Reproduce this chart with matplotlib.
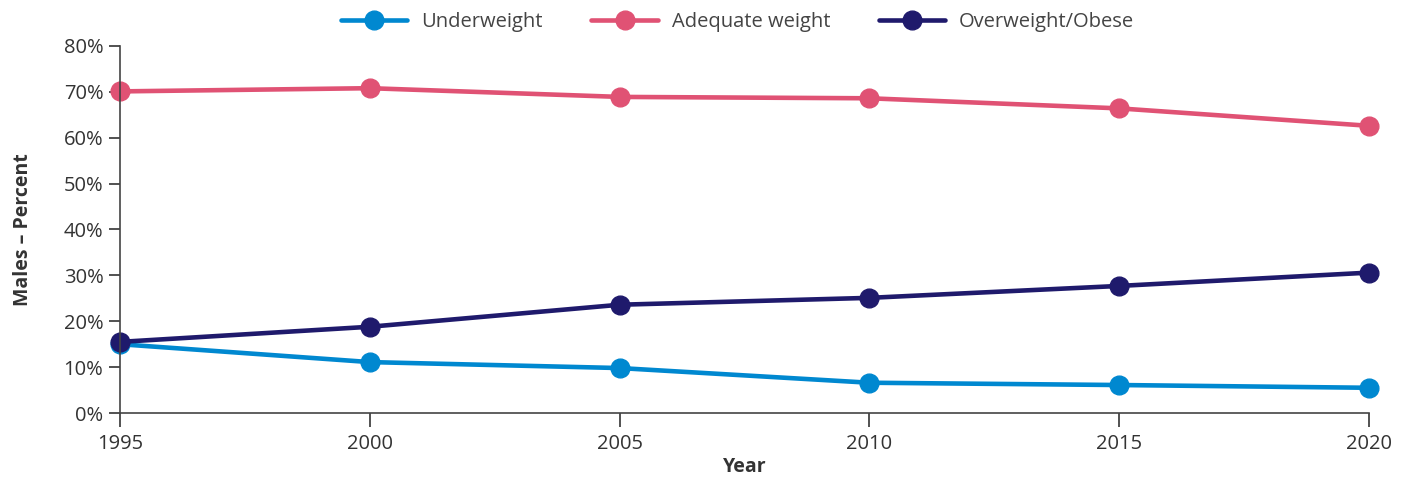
import matplotlib.pyplot as plt
from matplotlib.ticker import FuncFormatter

plt.rcParams['font.family'] = ['Open Sans', 'DejaVu Sans']

years = [1995, 2000, 2005, 2010, 2015, 2020]
underweight = [15.0, 11.1, 9.8, 6.6, 6.1, 5.5]
adequate = [70.1, 70.8, 68.9, 68.6, 66.4, 62.6]
overweight = [15.5, 18.8, 23.6, 25.1, 27.7, 30.6]

series = [
    ("Underweight", underweight, "#0088d0"),
    ("Adequate weight", adequate, "#e05274"),
    ("Overweight/Obese", overweight, "#1f1a6c"),
]

fig = plt.figure(figsize=(14.05, 4.83), dpi=100)
ax = fig.add_axes([0.0854, 0.1449, 0.8890, 0.7599])

for name, vals, color in series:
    ax.plot(years, vals, color=color, lw=3.3, marker="o", markersize=13.5,
            label=name, solid_capstyle="round")

ax.set_xlim(1995, 2020)
ax.set_ylim(0, 80)
ax.set_xticks(years)
ax.set_yticks(range(0, 81, 10))
ax.yaxis.set_major_formatter(FuncFormatter(lambda v, p: f"{v:.0f}%"))

for s in ["top", "right"]:
    ax.spines[s].set_visible(False)
for s in ["left", "bottom"]:
    ax.spines[s].set_color("#444444")
    ax.spines[s].set_linewidth(1.2)
    ax.spines[s].set_clip_on(False)

ax.tick_params(axis="both", labelsize=14.5, colors="#333333", length=10,
               width=1.2, direction="out", pad=5)
ax.tick_params(axis="y", length=8, pad=4)
for lbl in ax.get_xticklabels() + ax.get_yticklabels():
    lbl.set_color("#333333")

ax.set_xlabel("Year", fontsize=14, fontweight="bold", color="#333333", labelpad=2)
ax.set_ylabel("Males \u2013 Percent", fontsize=14, fontweight="bold", color="#333333", labelpad=22)

for line in ax.get_lines():
    line.set_clip_on(False)

fig.legend(loc="center", bbox_to_anchor=(0.525, 0.955), ncol=3, frameon=False,
           fontsize=14.5, handlelength=3.3, columnspacing=2.4, handletextpad=0.7,
           labelcolor="#444444")

fig.savefig("out.png", dpi=100)
